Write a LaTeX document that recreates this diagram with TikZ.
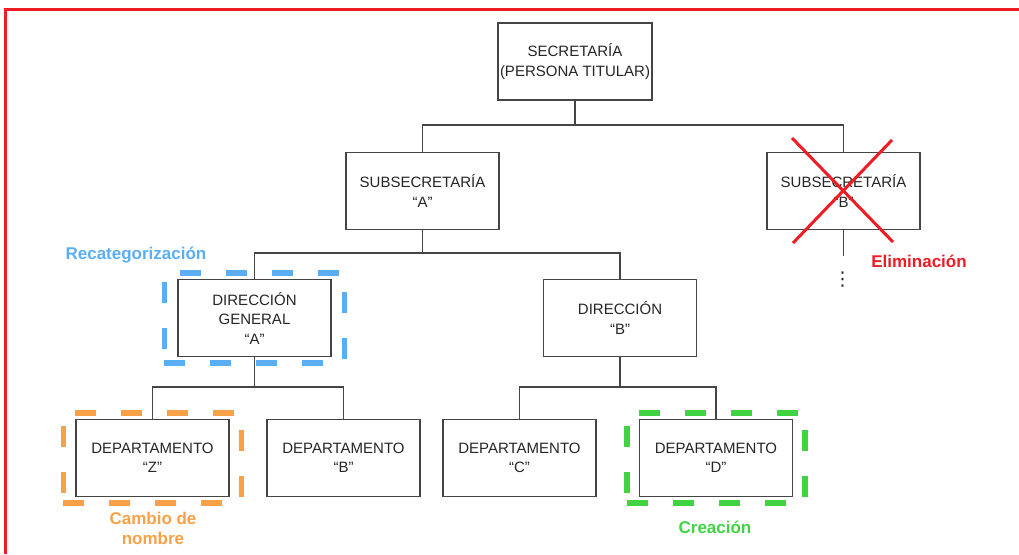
\documentclass[tikz,border=0pt]{standalone}
\usepackage{fontspec}
\setmainfont{Liberation Sans}
\newfontfamily\symfont{DejaVu Sans}
\usetikzlibrary{fit}

\definecolor{boxline}{HTML}{454545}
\definecolor{boxtext}{HTML}{262626}
\definecolor{elimred}{HTML}{EE1C25}
\definecolor{recatblue}{HTML}{5BAEF4}
\definecolor{renorange}{HTML}{F8A146}
\definecolor{newgreen}{HTML}{40D443}

\begin{document}
\begin{tikzpicture}[x=1pt,y=-1pt,
        unit/.style={draw=boxline,line width=1.3pt,fill=white,
            minimum width=153pt,minimum height=77pt,inner sep=2pt,
            align=center,text=boxtext,font=\fontsize{15}{19.5}\selectfont},
        link/.style={draw=boxline,line width=1.3pt},
        changebox/.style={draw,line width=5.5pt,dash pattern=on 21pt off 25pt,
            inner xsep=12pt,inner ysep=6pt},
        tag/.style={align=center,font=\fontsize{17}{20}\selectfont\bfseries}]
    \useasboundingbox (0,0) rectangle (1019,554);

    % frame
    \draw[elimred,line width=3pt] (5,554) -- (5,9) -- (1019,9);

    % units
    \begin{scope}[every node/.style={unit}]
        \node (sec) at (575,61.5) {SECRETARÍA\\(PERSONA TITULAR)};
        \node (subA) at (422.5,191) {SUBSECRETARÍA\\``A''};
        \node (subB) at (843.5,191) {SUBSECRETARÍA\\``B''};
        \node (dirA) at (254.5,318) {DIRECCIÓN\\GENERAL\\``A''};
        \node (dirB) at (620,318) {DIRECCIÓN\\``B''};
        \foreach \n/\x/\l in {depZ/152.5/Z,depB/343.5/B,depC/519.5/C,depD/716/D}{
            \node (\n) at (\x,458) {DEPARTAMENTO\\``\l''};
        }
    \end{scope}

    % connectors
    \coordinate (bus1) at (575,125);
    \coordinate (bus2) at (422.5,253);
    \coordinate (bus3) at (254.5,387);
    \coordinate (bus4) at (620,387);
    \coordinate (endB) at (843.5,256);
    \begin{scope}[every path/.style={link}]
        \draw (sec.south) -- (bus1);
        \draw (subA.north) |- (bus1) -| (subB.north);
        \draw (subA.south) -- (bus2);
        \draw (dirA.north) |- (bus2) -| (dirB.north);
        \draw (dirA.south) -- (bus3);
        \draw (depZ.north) |- (bus3) -| (depB.north);
        \draw (dirB.south) -- (bus4);
        \draw (depC.north) |- (bus4) -| (depD.north);
        \draw (subB.south) -- (endB);
    \end{scope}
    \node[text=boxtext,font=\symfont\fontsize{19}{19}\selectfont,inner sep=0pt] (more) at (842.5,280) {⋮};

    % changes
    \node[changebox,recatblue,fit=(dirA),inner xsep=13pt] (recat) {};
    \node[changebox,renorange,fit=(depZ)] (rename) {};
    \node[changebox,newgreen,fit=(depD)] (create) {};
    \draw[elimred,line width=3pt] (792,138) -- (893,242);
    \draw[elimred,line width=3pt] (892,140) -- (793,243);

    % labels
    \node[tag,recatblue] (recatlbl) at (136,255) {Recategorización};
    \node[tag,renorange] (renamelbl) at (153,528) {Cambio de\\nombre};
    \node[tag,newgreen] (createlbl) at (715,527) {Creación};
    \node[tag,elimred] (elimlbl) at (919,261) {Eliminación};
\end{tikzpicture}
\end{document}
